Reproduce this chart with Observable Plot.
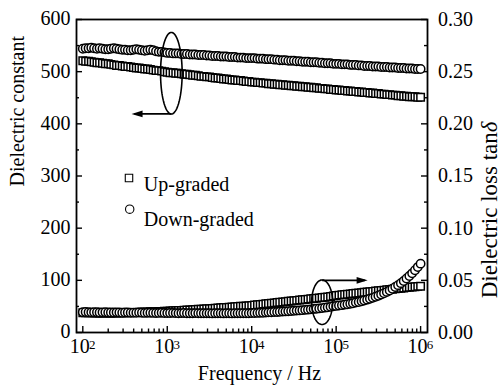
<!DOCTYPE html>
<html>
<head>
<meta charset="utf-8">
<script src="https://cdn.jsdelivr.net/npm/d3@7"></script>
<script src="https://cdn.jsdelivr.net/npm/@observablehq/plot@0.6"></script>
<style>
  html, body { margin: 0; padding: 0; background: #fff; }
</style>
</head>
<body>
<div id="chart"></div>
<script>
// Measurement frequencies (Hz), 30 points per decade
const freq = [
  1.00e2,1.08e2,1.17e2,1.26e2,1.36e2,1.47e2,1.58e2,1.71e2,1.85e2,2.00e2,2.15e2,2.33e2,2.51e2,2.71e2,2.93e2,3.16e2,3.41e2,3.69e2,3.98e2,4.30e2,4.64e2,5.01e2,5.41e2,5.84e2,6.31e2,6.81e2,7.36e2,7.94e2,8.58e2,9.26e2,
  1.00e3,1.08e3,1.17e3,1.26e3,1.36e3,1.47e3,1.58e3,1.71e3,1.85e3,2.00e3,2.15e3,2.33e3,2.51e3,2.71e3,2.93e3,3.16e3,3.41e3,3.69e3,3.98e3,4.30e3,4.64e3,5.01e3,5.41e3,5.84e3,6.31e3,6.81e3,7.36e3,7.94e3,8.58e3,9.26e3,
  1.00e4,1.08e4,1.17e4,1.26e4,1.36e4,1.47e4,1.58e4,1.71e4,1.85e4,2.00e4,2.15e4,2.33e4,2.51e4,2.71e4,2.93e4,3.16e4,3.41e4,3.69e4,3.98e4,4.30e4,4.64e4,5.01e4,5.41e4,5.84e4,6.31e4,6.81e4,7.36e4,7.94e4,8.58e4,9.26e4,
  1.00e5,1.08e5,1.17e5,1.26e5,1.36e5,1.47e5,1.58e5,1.71e5,1.85e5,2.00e5,2.15e5,2.33e5,2.51e5,2.71e5,2.93e5,3.16e5,3.41e5,3.69e5,3.98e5,4.30e5,4.64e5,5.01e5,5.41e5,5.84e5,6.31e5,6.81e5,7.36e5,7.94e5,8.58e5,9.26e5,
  1.00e6
];

// Dielectric constant
const upConstant = [
  521,520,520,519,518,517,517,516,515,515,514,513,512,512,511,510,510,509,508,507,507,506,505,505,504,503,502,502,501,500,
  499,498,498,497,497,496,495,495,494,493,493,492,491,491,490,490,489,488,488,487,486,486,485,484,484,483,483,482,481,481,
  480,480,479,479,478,478,477,477,476,476,475,475,474,474,473,473,472,472,471,471,470,470,469,469,468,468,467,467,466,466,
  465,465,464,464,463,463,462,462,461,461,460,460,459,459,458,458,457,457,456,456,455,455,454,454,453,453,452,452,452,451,
  451
];
const downConstant = [
  544,545,545,546,545,544,545,544,543,543,544,545,544,543,542,542,541,541,542,543,542,541,540,541,542,541,539,538,538,537,
  536,536,535,535,535,534,534,534,533,533,533,532,532,532,531,531,530,530,530,529,529,529,528,528,528,527,527,527,526,526,
  526,526,525,525,525,524,524,524,523,523,522,522,522,521,521,521,520,520,519,519,519,518,518,518,517,517,516,516,516,515,
  515,515,514,514,514,513,513,513,512,512,511,511,511,510,510,510,509,509,509,508,508,508,507,507,507,506,506,506,505,505,
  505
];

// Dielectric loss tanδ
const upLoss = [
  .0190,.0189,.0188,.0188,.0187,.0187,.0186,.0186,.0186,.0186,.0186,.0187,.0187,.0188,.0188,.0189,.0190,.0191,.0192,.0193,.0194,.0195,.0196,.0197,.0198,.0199,.0200,.0201,.0202,.0203,
  .0205,.0206,.0208,.0209,.0211,.0212,.0214,.0215,.0217,.0218,.0220,.0222,.0223,.0225,.0227,.0229,.0231,.0233,.0235,.0237,.0239,.0241,.0243,.0245,.0247,.0249,.0251,.0253,.0255,.0257,
  .0260,.0263,.0266,.0269,.0272,.0275,.0278,.0281,.0284,.0287,.0290,.0293,.0296,.0299,.0302,.0305,.0308,.0311,.0314,.0317,.0320,.0323,.0326,.0329,.0332,.0335,.0338,.0341,.0345,.0350,
  .0355,.0358,.0361,.0364,.0367,.0370,.0373,.0376,.0379,.0382,.0385,.0388,.0391,.0394,.0397,.0400,.0403,.0406,.0409,.0412,.0415,.0418,.0421,.0424,.0427,.0430,.0433,.0436,.0439,.0442,
  .0444
];
const downLoss = [
  .0195,.0196,.0194,.0193,.0195,.0194,.0192,.0193,.0194,.0192,.0191,.0192,.0193,.0191,.0190,.0191,.0192,.0190,.0189,.0190,.0191,.0189,.0188,.0189,.0190,.0188,.0187,.0188,.0189,.0187,
  .0186,.0187,.0188,.0186,.0185,.0186,.0187,.0185,.0184,.0185,.0186,.0185,.0184,.0184,.0185,.0184,.0183,.0184,.0185,.0184,.0183,.0184,.0184,.0183,.0184,.0185,.0184,.0184,.0185,.0185,
  .0186,.0187,.0188,.0189,.0190,.0191,.0193,.0194,.0196,.0197,.0199,.0201,.0202,.0204,.0206,.0208,.0210,.0212,.0214,.0217,.0219,.0222,.0225,.0228,.0231,.0234,.0238,.0242,.0246,.0251,
  .0255,.0259,.0262,.0267,.0271,.0276,.0281,.0287,.0293,.0300,.0307,.0315,.0323,.0332,.0342,.0352,.0364,.0376,.0389,.0403,.0419,.0436,.0454,.0473,.0494,.0517,.0541,.0567,.0596,.0627,
  .0660
];

// Axis ticks
const constantTicks = [0, 100, 200, 300, 400, 500, 600];
const constantMinor = [50, 150, 250, 350, 450, 550];
const lossTicks = [0, 0.05, 0.10, 0.15, 0.20, 0.25, 0.30];
const lossMinor = [0.025, 0.075, 0.125, 0.175, 0.225, 0.275];
const decades = [2, 3, 4, 5, 6];
const mantissas = [2, 3, 4, 5, 6, 7, 8, 9];

// Annotation anchors: which axis each curve group belongs to
const leftGroup = {f: 1118, value: 497, arrowValue: 419, arrowTip: 378};          // constant axis
const rightGroup = {f: 68200, value: 0.029, arrowValue: 0.050, arrowTip: 236000}; // loss axis

const legendItems = ["Up-graded", "Down-graded"];

// ---- layout ----
const W = 501, H = 390;
const ML = 76, MR = 74, MT = 19, MB = 58;
const FW = W - ML - MR, FH = H - MT - MB;
const FONT = "'Liberation Serif', 'Times New Roman', Tinos, 'DejaVu Serif', serif";
const LOSS_SCALE = 600 / 0.30; // loss axis shares the frame with the constant axis

const rows = (vals, k = 1) => freq.map((f, i) => ({f, v: vals[i] * k}));
const minorX = decades.slice(0, -1).flatMap(e => mantissas.map(m => m * 10 ** e));

const ellipse = (rx, ry) => ({
  draw(ctx) {
    const n = 96;
    for (let i = 0; i <= n; i++) {
      const a = 2 * Math.PI * i / n;
      const px = rx * Math.cos(a), py = ry * Math.sin(a);
      i ? ctx.lineTo(px, py) : ctx.moveTo(px, py);
    }
    ctx.closePath();
  }
});
const head = dir => ({
  draw(ctx) {
    ctx.moveTo(0, 0);
    ctx.lineTo(-dir * 11, -3.3);
    ctx.lineTo(-dir * 11, 3.3);
    ctx.closePath();
  }
});

const dotStyle = {r: 4.2, fill: "white", stroke: "black", strokeWidth: 1.5};
const txt = {fontSize: 20, fill: "black"};

const chart = Plot.plot({
  width: W, height: H,
  marginLeft: ML, marginRight: MR, marginTop: MT, marginBottom: MB,
  style: {background: "white", color: "black", fontFamily: FONT},
  x: {type: "log", domain: [84.2, 1.207e6], axis: null},
  y: {domain: [0, 600], axis: null},
  marks: [
    // inward ticks
    Plot.tickY(constantTicks, {y: d => d, insetRight: FW - 6, strokeWidth: 1.4}),
    Plot.tickY(constantMinor, {y: d => d, insetRight: FW - 3, strokeWidth: 1.4}),
    Plot.tickY(lossTicks, {y: d => d * LOSS_SCALE, insetLeft: FW - 6, strokeWidth: 1.4}),
    Plot.tickY(lossMinor, {y: d => d * LOSS_SCALE, insetLeft: FW - 3, strokeWidth: 1.4}),
    Plot.tickX(decades, {x: e => 10 ** e, insetTop: FH - 6, strokeWidth: 1.4}),
    Plot.tickX(minorX, {x: d => d, insetTop: FH - 3.5, strokeWidth: 1.4}),

    // tick labels
    Plot.text(constantTicks, {y: d => d, text: d => String(d), frameAnchor: "left", textAnchor: "end", dx: -6, dy: -0.5, ...txt}),
    Plot.text(lossTicks, {y: d => d * LOSS_SCALE, text: d => d.toFixed(2), frameAnchor: "right", textAnchor: "start", dx: 10.5, ...txt}),
    Plot.text(decades, {x: e => 10 ** e, text: () => "10", frameAnchor: "bottom", dy: 20, dx: -3, ...txt}),
    Plot.text(decades, {x: e => 10 ** e, text: e => String(e), frameAnchor: "bottom", dy: 16.5, dx: 9.5, ...txt, fontSize: 13}),

    // axis titles
    Plot.text(["Frequency / Hz"], {text: d => d, frameAnchor: "bottom", dx: 7.5, dy: 47, ...txt}),
    Plot.text(["Dielectric constant"], {text: d => d, frameAnchor: "left", rotate: -90, dx: -59, dy: 10.5, ...txt}),
    Plot.text(["Dielectric loss tan"], {text: d => d, frameAnchor: "right", rotate: -90, textAnchor: "end", dx: 62.6, dy: -43.8, ...txt, fontSize: 23}),
    Plot.text(["δ"], {text: d => d, frameAnchor: "right", rotate: -90, textAnchor: "start", dx: 62.6, dy: -43.8, ...txt, fontSize: 23, fontStyle: "italic"}),

    // data
    Plot.dot(rows(upConstant), {x: "f", y: "v", symbol: "square", ...dotStyle}),
    Plot.dot(rows(downConstant), {x: "f", y: "v", symbol: "circle", ...dotStyle}),
    Plot.dot(rows(upLoss, LOSS_SCALE), {x: "f", y: "v", symbol: "square", ...dotStyle}),
    Plot.dot(rows(downLoss, LOSS_SCALE), {x: "f", y: "v", symbol: "circle", ...dotStyle}),

    // axis-assignment annotations
    Plot.dot([leftGroup], {x: "f", y: "value", symbol: ellipse(10.8, 40.8), fill: "none", stroke: "black", strokeWidth: 1.6}),
    Plot.link([leftGroup], {x1: "f", x2: d => d.arrowTip * 1.08, y1: "arrowValue", y2: "arrowValue", stroke: "black", strokeWidth: 1.6}),
    Plot.dot([leftGroup], {x: "arrowTip", y: "arrowValue", symbol: head(-1), fill: "black", stroke: "none"}),
    Plot.dot([rightGroup], {x: "f", y: d => d.value * LOSS_SCALE, symbol: ellipse(10.5, 22.3), fill: "none", stroke: "black", strokeWidth: 1.6}),
    Plot.link([rightGroup], {x1: "f", x2: d => d.arrowTip / 1.08, y1: d => d.arrowValue * LOSS_SCALE, y2: d => d.arrowValue * LOSS_SCALE, stroke: "black", strokeWidth: 1.6}),
    Plot.dot([rightGroup], {x: "arrowTip", y: d => d.arrowValue * LOSS_SCALE, symbol: head(1), fill: "black", stroke: "none"}),

    // legend
    Plot.dot([legendItems[0]], {frameAnchor: "top-left", dx: 52.5, dy: 158.5, symbol: "square", ...dotStyle, strokeWidth: 1.1}),
    Plot.text([legendItems[0]], {text: d => d, frameAnchor: "top-left", textAnchor: "start", dx: 67.3, dy: 156.8, ...txt}),
    Plot.dot([legendItems[1]], {frameAnchor: "top-left", dx: 53.2, dy: 189.7, symbol: "circle", ...dotStyle, strokeWidth: 1.1}),
    Plot.text([legendItems[1]], {text: d => d, frameAnchor: "top-left", textAnchor: "start", dx: 67.3, dy: 191.8, ...txt}),

    Plot.frame({stroke: "black", strokeWidth: 1.8})
  ]
});

// text font for every label in the chart
chart.querySelectorAll("text, g[aria-label='text']").forEach(n => n.setAttribute("font-family", FONT));
document.getElementById("chart").appendChild(chart);
</script>
</body>
</html>
